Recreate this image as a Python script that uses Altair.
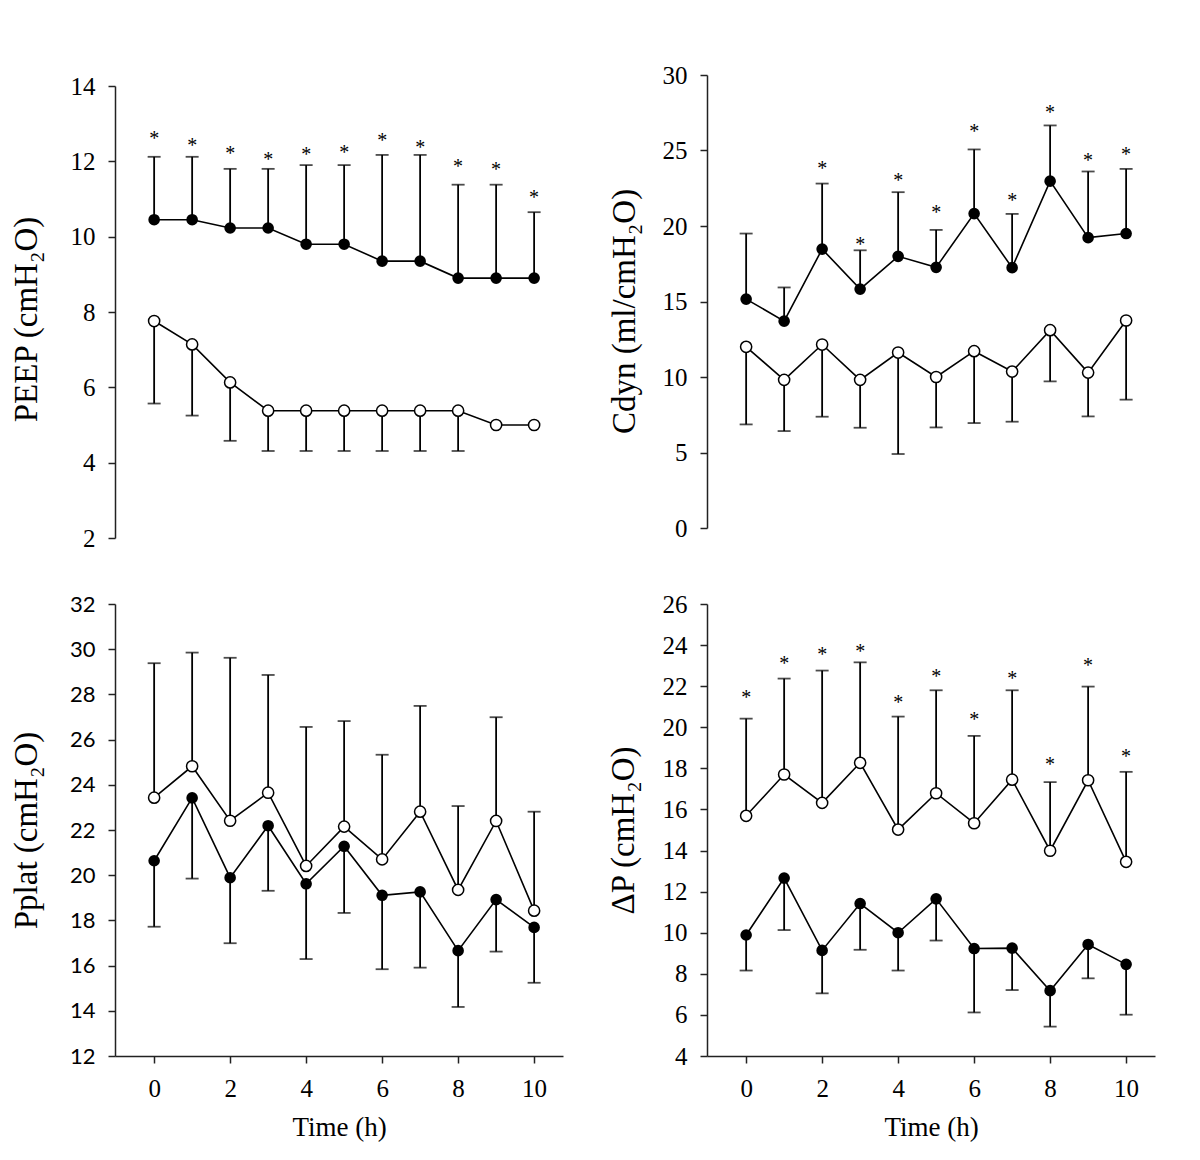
import altair as alt
import pandas as pd

time = [0, 1, 2, 3, 4, 5, 6, 7, 8, 9, 10]

# PEEP panel
peep_filled = [10.45, 10.45, 10.23, 10.23, 9.8, 9.8, 9.35, 9.35, 8.9, 8.9, 8.9]
peep_filled_err = [12.12, 12.12, 11.8, 11.8, 11.9, 11.9, 12.17, 12.17, 11.38, 11.38, 10.65]
peep_stars = [12.68, 12.48, 12.27, 12.12, 12.24, 12.3, 12.62, 12.43, 11.94, 11.85, 11.11]
peep_open = [7.76, 7.14, 6.13, 5.38, 5.38, 5.38, 5.38, 5.38, 5.38, 5.0, 5.0]
peep_open_err = [5.57, 5.25, 4.58, 4.31, 4.31, 4.31, 4.31, 4.31, 4.31, None, None]

# Cdyn panel
cdyn_filled = [15.16, 13.7, 18.47, 15.82, 17.99, 17.26, 20.82, 17.24, 22.97, 19.23, 19.5]
cdyn_filled_err = [19.5, 15.93, 22.81, 18.39, 22.24, 19.74, 25.07, 20.8, 26.66, 23.61, 23.78]
cdyn_stars = [None, None, 23.96, 18.94, 23.21, 21.06, 26.42, 21.86, 27.68, 24.49, 24.89]
cdyn_open = [12.0, 9.81, 12.15, 9.81, 11.62, 10.0, 11.71, 10.36, 13.1, 10.29, 13.74]
cdyn_open_err = [6.86, 6.42, 7.37, 6.64, 4.9, 6.66, 6.95, 7.04, 9.71, 7.39, 8.5]

# Pplat panel
pplat_open = [23.43, 24.82, 22.41, 23.65, 20.41, 22.15, 20.7, 22.81, 19.35, 22.4, 18.43]
pplat_open_err = [29.38, 29.85, 29.62, 28.86, 26.56, 26.82, 25.33, 27.49, 23.06, 26.99, 22.81]
pplat_filled = [20.64, 23.42, 19.89, 22.19, 19.62, 21.28, 19.11, 19.26, 16.66, 18.92, 17.69]
pplat_filled_err = [17.72, 19.85, 16.99, 19.31, 16.29, 18.33, 15.84, 15.91, 14.17, 16.62, 15.24]
pplat_stars = [None] * 11

# Delta P panel
dp_open = [15.69, 17.7, 16.32, 18.27, 15.02, 16.79, 15.33, 17.45, 13.99, 17.42, 13.45]
dp_open_err = [20.42, 22.37, 22.76, 23.16, 20.52, 21.8, 19.58, 21.8, 17.33, 21.98, 17.83]
dp_stars = [21.57, 23.21, 23.65, 23.83, 21.32, 22.61, 20.49, 22.48, 18.3, 23.12, 18.72]
dp_filled = [9.89, 12.66, 9.14, 11.42, 10.0, 11.65, 9.23, 9.25, 7.18, 9.43, 8.46]
dp_filled_err = [8.16, 10.13, 7.05, 9.17, 8.16, 9.62, 6.12, 7.21, 5.43, 7.78, 6.01]

SERIF = "Liberation Serif"
W = 448
XDOM = [-1.03, 10.76]


def panel(filled, filled_err, open_, open_err, stars, ydomain, yticks, ytitle,
          height, yrange=None, show_x=False, title_x=-79, title_y=None,
          label_font=SERIF, label_size=25):
    df_f = pd.DataFrame({"t": time, "v": filled, "e": filled_err})
    df_o = pd.DataFrame({"t": time, "v": open_, "e": open_err})
    df_s = pd.DataFrame({"t": time, "s": stars}).dropna()

    sc = dict(domain=ydomain, nice=False, zero=False)
    if yrange is not None:
        sc["range"] = yrange
    yscale = alt.Scale(**sc)

    yax = dict(values=yticks, title=ytitle, grid=False, labelFont=label_font,
               labelFontSize=label_size, labelColor="black", tickSize=7,
               tickWidth=1.5, tickColor="#222", domainColor="#222",
               domainWidth=1.5, labelPadding=13, titleFont=SERIF,
               titleFontSize=33, titleFontWeight="normal", titleColor="black",
               titleBaseline="alphabetic", titleX=title_x)
    if title_y is not None:
        yax["titleY"] = title_y
    yaxis = alt.Axis(**yax)

    if show_x:
        xaxis = alt.Axis(values=[0, 2, 4, 6, 8, 10], title="Time (h)", grid=False,
                         labelFont=SERIF, labelFontSize=25, labelColor="black",
                         tickSize=7, tickWidth=1.5, tickColor="#222",
                         domainColor="#222", domainWidth=1.5, labelPadding=13,
                         titleFont=SERIF, titleFontSize=27, titleFontWeight="normal",
                         titleColor="black", titleBaseline="alphabetic", titleY=79)
    else:
        xaxis = None

    xs = alt.Scale(domain=XDOM, nice=False, zero=False)
    X = alt.X("t:Q", scale=xs, axis=xaxis)

    def Y(field):
        return alt.Y(f"{field}:Q", scale=yscale, axis=yaxis)

    layers = []
    for df in (df_f, df_o):
        layers.append(alt.Chart(df).mark_line(color="black", strokeWidth=1.6).encode(x=X, y=Y("v")))
    for df in (df_f, df_o):
        d = df.dropna()
        layers.append(alt.Chart(d).mark_rule(color="black", strokeWidth=1.8).encode(
            x=X, y=Y("v"), y2=alt.Y2("e")))
        layers.append(alt.Chart(d).mark_tick(color="black", orient="horizontal",
                                             size=13, thickness=1.8).encode(x=X, y=Y("e")))
    layers.append(alt.Chart(df_o).mark_point(shape="circle", filled=True, fill="white",
                                             stroke="black", strokeWidth=1.5, size=125,
                                             opacity=1).encode(x=X, y=Y("v")))
    layers.append(alt.Chart(df_f).mark_point(shape="circle", filled=True, color="black",
                                             size=135, opacity=1).encode(x=X, y=Y("v")))
    if len(df_s):
        layers.append(alt.Chart(df_s).mark_text(text="*", font=SERIF, fontSize=20,
                                                baseline="middle", dy=3,
                                                color="black").encode(x=X, y=Y("s")))
    return alt.layer(*layers).properties(width=W, height=height)


p1 = panel(peep_filled, peep_filled_err, peep_open, peep_open_err, peep_stars,
           [2, 14], [2, 4, 6, 8, 10, 12, 14], "PEEP (cmH₂O)", 463,
           yrange=[463, 11], title_x=-79, title_y=244)
p2 = panel(cdyn_filled, cdyn_filled_err, cdyn_open, cdyn_open_err, cdyn_stars,
           [0, 30], [0, 5, 10, 15, 20, 25, 30], "Cdyn (ml/cmH₂O)", 463,
           yrange=[453, 0], title_x=-73, title_y=236)
p3 = panel(pplat_filled, pplat_filled_err, pplat_open, pplat_open_err, pplat_stars,
           [12, 32], list(range(12, 33, 2)), "Pplat (cmH₂O)", 452,
           show_x=True, title_x=-79, label_font="Lato", label_size=22)
p4 = panel(dp_filled, dp_filled_err, dp_open, dp_open_err, dp_stars,
           [4, 26], list(range(4, 27, 2)), "ΔP (cmH₂O)", 452,
           show_x=True, title_x=-74)

chart = alt.ConcatChart(
    concat=[p1, p2, p3, p4], columns=2,
    spacing={"row": 66, "column": 144}, bounds="flush"
).properties(
    padding={"left": 2, "top": 55, "right": 10, "bottom": 10},
    background="white"
).configure_view(strokeWidth=0, stroke="transparent")

chart.save("out.html", embed_options={"renderer": "svg", "actions": False})
